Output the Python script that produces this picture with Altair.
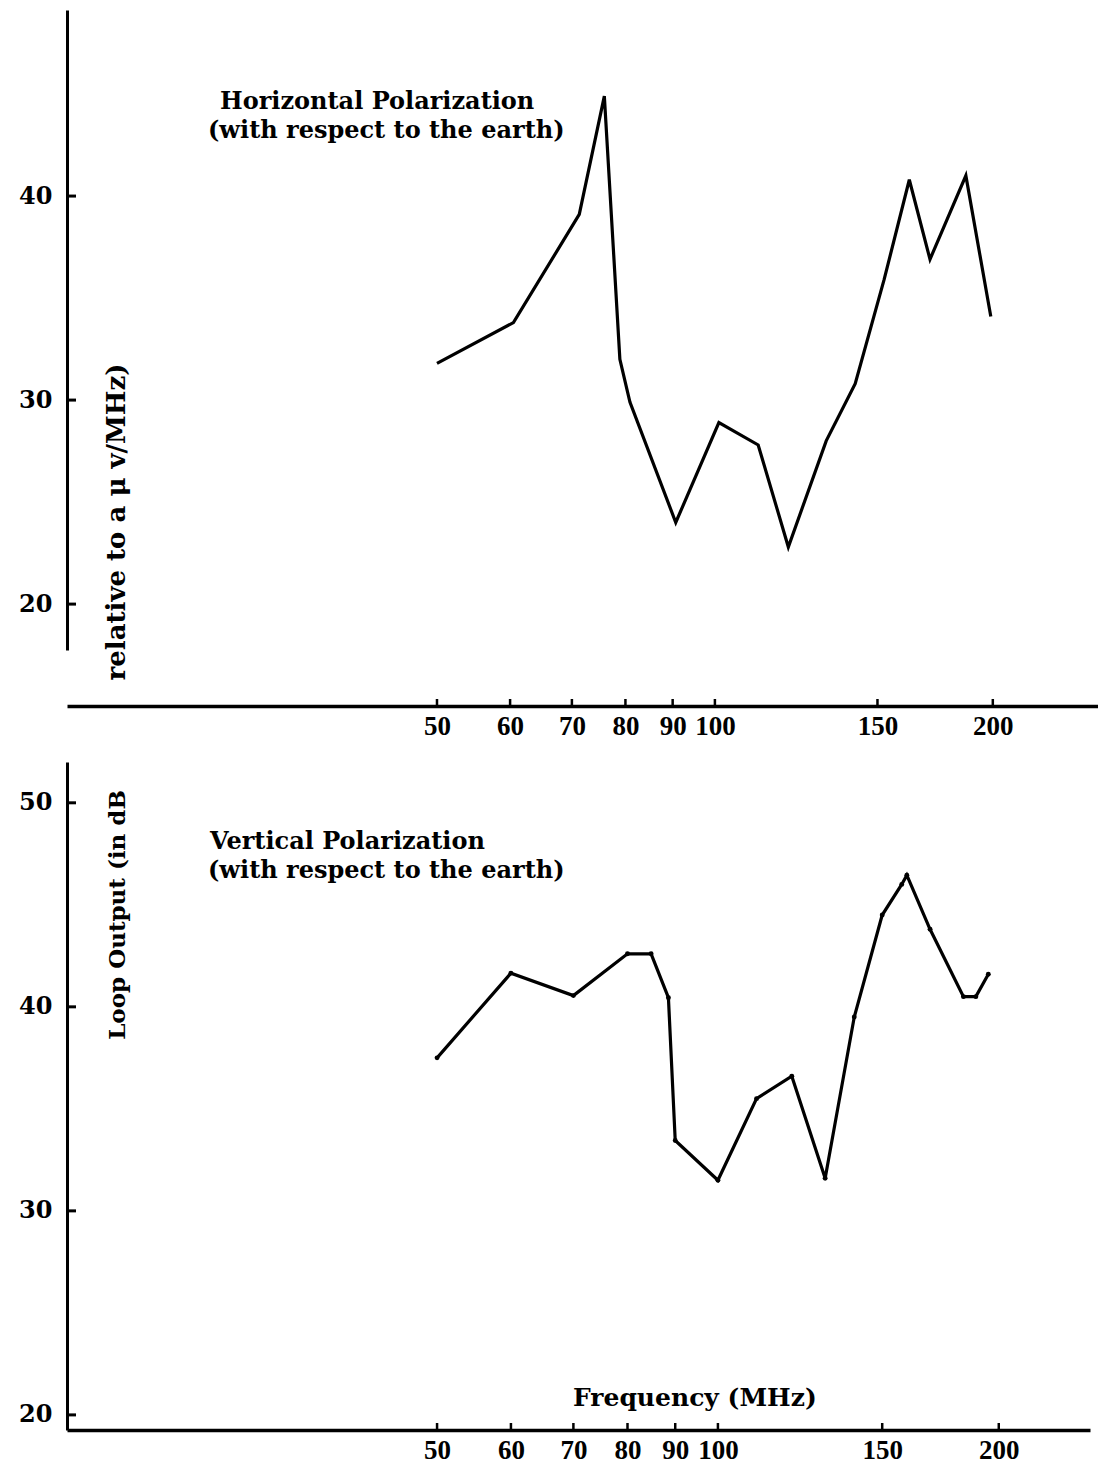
import altair as alt
import pandas as pd

# ---------------- data ----------------
H_FREQ = [50, 60.5, 71.3, 75.9, 78.9, 80.9, 90.7, 101, 111.4, 120.1, 132, 141.9, 152.5, 162.4, 171, 187, 199]
H_VAL = [31.8, 33.8, 39.1, 44.9, 32.0, 29.9, 24.0, 28.9, 27.8, 22.8, 28.0, 30.8, 35.9, 40.8, 36.9, 41.0, 34.1]

V_FREQ = [50, 60, 70, 80, 84.8, 88.5, 90, 100, 110, 120, 130.3, 140, 150, 157.4, 159.4, 168.8, 183.3, 189, 194.9]
V_VAL = [37.5, 41.65, 40.55, 42.6, 42.6, 40.45, 33.45, 31.5, 35.5, 36.6, 31.6, 39.5, 44.5, 46.0, 46.45, 43.8, 40.5, 40.5, 41.6]

X_TICKS = [50, 60, 70, 80, 90, 100, 150, 200]
Y_TICKS_TOP = [20, 30, 40]
Y_TICKS_BOT = [20, 30, 40, 50]

TOP_TEXT = ["Horizontal Polarization", "(with respect to the earth)"]
BOT_TEXT = ["Vertical Polarization", "(with respect to the earth)"]
Y_TITLE_TOP = "relative to a \u03bc v/MHz)"
Y_TITLE_BOT = "Loop Output (in dB"
X_TITLE = "Frequency (MHz)"

SERIF = "DejaVu Serif"
NUM_FONT = "Liberation Serif"


def panel(freq, val, xdom, ydom, w, h, yticks, xoffset, dots, lines, line_xy,
          ytitle, ytitle_xy, ytitle_size, extra=None):
    df = pd.DataFrame({"freq": freq, "val": val})
    xs = alt.Scale(type="log", domain=xdom, nice=False, zero=False)
    ys = alt.Scale(domain=ydom, nice=False, zero=False)
    xaxis = alt.Axis(values=X_TICKS, offset=xoffset, ticks=False, grid=False, title=None,
                     labelFont=NUM_FONT, labelFontSize=27, labelFontWeight="bold", labelColor="black",
                     labelPadding=7, labelOverlap=False, labelFlush=False, format="d",
                     domainColor="black", domainWidth=3.5)
    yaxis = alt.Axis(values=yticks, ticks=False, grid=False, title=None,
                     labelFont=SERIF, labelFontSize=24, labelFontWeight="bold", labelColor="black",
                     labelPadding=15, labelOverlap=False, labelFlush=False, format="d",
                     domainColor="black", domainWidth=3)
    X = lambda: alt.X("freq:Q", scale=xs, axis=xaxis)
    Y = lambda: alt.Y("val:Q", scale=ys, axis=yaxis)
    base = alt.Chart(df)
    layers = [base.mark_line(color="black", strokeWidth=3.2, clip=True).encode(
        x=X(), y=Y(), order=alt.Order("freq:Q"))]
    if dots:
        layers.append(base.mark_circle(color="black", size=24, opacity=1).encode(x=X(), y=Y()))
    # inward tick marks
    layers.append(alt.Chart(pd.DataFrame({"val": yticks})).mark_rule(color="black", strokeWidth=3).encode(
        y=Y(), x=alt.value(0), x2=alt.value(9)))
    layers.append(alt.Chart(pd.DataFrame({"freq": X_TICKS})).mark_rule(color="black", strokeWidth=2.5).encode(
        x=X(), y=alt.value(h + xoffset - 7), y2=alt.value(h + xoffset)))
    # annotation text
    for i, t in enumerate(lines):
        lx, ly = line_xy[i]
        layers.append(alt.Chart(pd.DataFrame({"t": [t]})).mark_text(
            font=SERIF, fontSize=24, fontWeight="bold", color="black", align="left", baseline="alphabetic"
        ).encode(text="t:N", x=alt.value(lx), y=alt.value(ly)))
    layers.append(alt.Chart(pd.DataFrame({"t": [ytitle]})).mark_text(
        font=SERIF, fontSize=ytitle_size, fontWeight="bold", color="black", align="center",
        baseline="alphabetic", angle=270
    ).encode(text="t:N", x=alt.value(ytitle_xy[0]), y=alt.value(ytitle_xy[1])))
    if extra is not None:
        t, ex, ey = extra
        layers.append(alt.Chart(pd.DataFrame({"t": [t]})).mark_text(
            font=SERIF, fontSize=25, fontWeight="bold", color="black", align="left", baseline="alphabetic"
        ).encode(text="t:N", x=alt.value(ex), y=alt.value(ey)))
    return alt.layer(*layers).properties(width=w, height=h)


top = panel(H_FREQ, H_VAL, [19.87, 260], [17.75, 49.12], 1031, 640, Y_TICKS_TOP, 56, False,
            TOP_TEXT, [(153, 99), (141, 128)], Y_TITLE_TOP, (58, 512), 26)
bot = panel(V_FREQ, V_VAL, [20.06, 250.5], [19.26, 52.0], 1023, 668, Y_TICKS_BOT, 0, True,
            BOT_TEXT, [(143, 87), (141, 116)], Y_TITLE_BOT, (58, 153), 23, extra=(X_TITLE, 506, 644))

chart = alt.vconcat(top, bot, spacing=112, bounds="flush").properties(
    padding={"left": 18, "top": 10, "right": 0, "bottom": 0}, background="white"
).configure_view(stroke=None)

chart.save("out.html", embed_options={"renderer": "svg", "actions": False})
